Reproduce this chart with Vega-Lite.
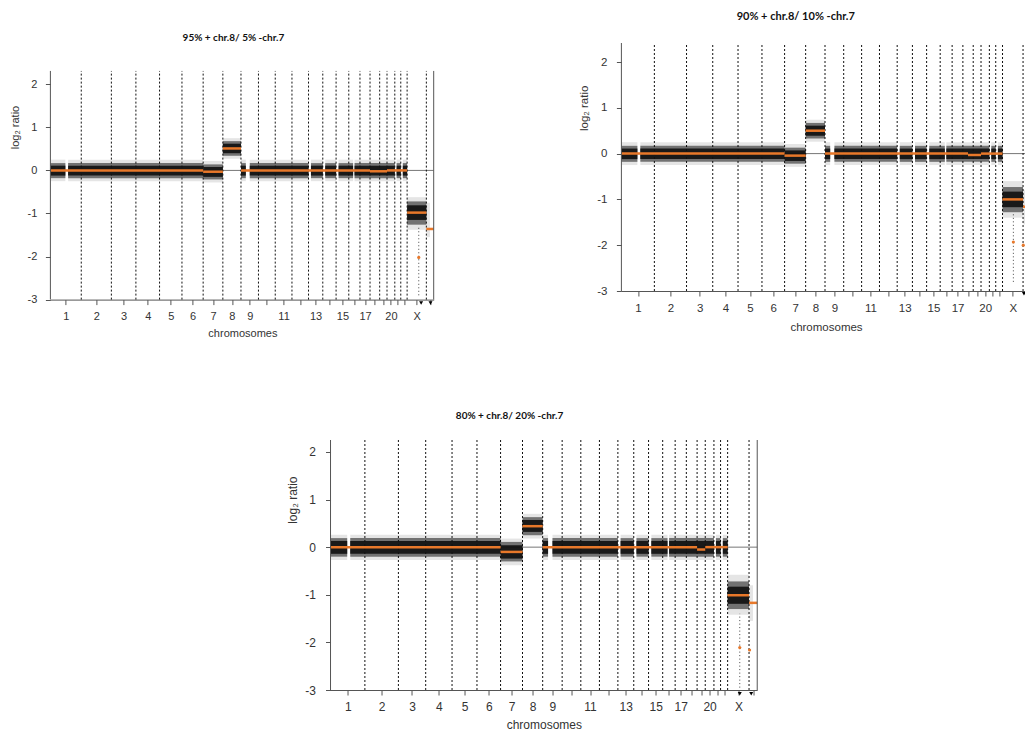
{
  "$schema": "https://vega.github.io/schema/vega-lite/v6.json",
  "background": "white",
  "padding": {"left": 9, "top": 11, "right": 0, "bottom": 0},
  "config": {
    "view": {"stroke": null},
    "axis": {"grid": false, "labelFont": "Liberation Sans", "titleFont": "Liberation Sans", "labelColor": "#333", "titleColor": "#333", "domainColor": "#555", "tickColor": "#555", "titleFontWeight": "normal", "tickSize": 5, "labelFlush": false, "labelOverlap": false, "labelBound": false, "tickCount": 100},
    "title": {"font": "Lato", "fontWeight": "bold", "color": "#111", "frame": "group", "anchor": "middle"}
  },
  "datasets": {
    "bnd": [{"x": 249.25}, {"x": 492.45}, {"x": 690.47}, {"x": 881.62}, {"x": 1062.54}, {"x": 1233.66}, {"x": 1392.8}, {"x": 1539.16}, {"x": 1680.37}, {"x": 1815.9}, {"x": 1950.91}, {"x": 2084.76}, {"x": 2199.93}, {"x": 2307.28}, {"x": 2409.81}, {"x": 2500.16}, {"x": 2581.36}, {"x": 2659.44}, {"x": 2718.57}, {"x": 2781.6}, {"x": 2829.73}, {"x": 2881.03}, {"x": 3036.3}],
    "brd": [{"x": 0}, {"x": 3095.67}],
    "bands": [
      {"p": 1, "s": 0, "e": 121, "ol": -0.25, "oh": 0.25, "ml": -0.18, "mh": 0.17, "cl": -0.12, "ch": 0.11},
      {"p": 1, "s": 143, "e": 1233.66, "ol": -0.25, "oh": 0.25, "ml": -0.18, "mh": 0.17, "cl": -0.12, "ch": 0.11},
      {"p": 1, "s": 1233.66, "e": 1392.8, "ol": -0.28, "oh": 0.22, "ml": -0.21, "mh": 0.14, "cl": -0.15, "ch": 0.08},
      {"p": 1, "s": 1392.8, "e": 1539.16, "ol": 0.27, "oh": 0.75, "ml": 0.34, "mh": 0.68, "cl": 0.4, "ch": 0.62},
      {"p": 1, "s": 1539.16, "e": 1578.2, "ol": -0.25, "oh": 0.25, "ml": -0.18, "mh": 0.17, "cl": -0.12, "ch": 0.11},
      {"p": 1, "s": 1610.2, "e": 2084.76, "ol": -0.25, "oh": 0.25, "ml": -0.18, "mh": 0.17, "cl": -0.12, "ch": 0.11},
      {"p": 1, "s": 2104.3, "e": 2199.93, "ol": -0.25, "oh": 0.25, "ml": -0.18, "mh": 0.17, "cl": -0.12, "ch": 0.11},
      {"p": 1, "s": 2219.4, "e": 2307.28, "ol": -0.25, "oh": 0.25, "ml": -0.18, "mh": 0.17, "cl": -0.12, "ch": 0.11},
      {"p": 1, "s": 2327.3, "e": 2444.8, "ol": -0.25, "oh": 0.25, "ml": -0.18, "mh": 0.17, "cl": -0.12, "ch": 0.11},
      {"p": 1, "s": 2456.3, "e": 2781.6, "ol": -0.25, "oh": 0.25, "ml": -0.18, "mh": 0.17, "cl": -0.12, "ch": 0.11},
      {"p": 1, "s": 2796.1, "e": 2829.73, "ol": -0.25, "oh": 0.25, "ml": -0.18, "mh": 0.17, "cl": -0.12, "ch": 0.11},
      {"p": 1, "s": 2846.2, "e": 2881.03, "ol": -0.25, "oh": 0.25, "ml": -0.18, "mh": 0.17, "cl": -0.12, "ch": 0.11},
      {"p": 1, "s": 2881.03, "e": 3036.3, "ol": -1.38, "oh": -0.62, "ml": -1.26, "mh": -0.72, "cl": -1.15, "ch": -0.81},
      {"p": 1, "s": 3039, "e": 3065, "ol": -1.55, "oh": -0.75},
      {"p": 2, "s": 0, "e": 121, "ol": -0.25, "oh": 0.25, "ml": -0.18, "mh": 0.17, "cl": -0.12, "ch": 0.11},
      {"p": 2, "s": 143, "e": 1233.66, "ol": -0.25, "oh": 0.25, "ml": -0.18, "mh": 0.17, "cl": -0.12, "ch": 0.11},
      {"p": 2, "s": 1233.66, "e": 1392.8, "ol": -0.29, "oh": 0.21, "ml": -0.22, "mh": 0.13, "cl": -0.16, "ch": 0.07},
      {"p": 2, "s": 1392.8, "e": 1539.16, "ol": 0.26, "oh": 0.74, "ml": 0.33, "mh": 0.67, "cl": 0.39, "ch": 0.61},
      {"p": 2, "s": 1539.16, "e": 1578.2, "ol": -0.25, "oh": 0.25, "ml": -0.18, "mh": 0.17, "cl": -0.12, "ch": 0.11},
      {"p": 2, "s": 1610.2, "e": 2084.76, "ol": -0.25, "oh": 0.25, "ml": -0.18, "mh": 0.17, "cl": -0.12, "ch": 0.11},
      {"p": 2, "s": 2104.3, "e": 2199.93, "ol": -0.25, "oh": 0.25, "ml": -0.18, "mh": 0.17, "cl": -0.12, "ch": 0.11},
      {"p": 2, "s": 2219.4, "e": 2307.28, "ol": -0.25, "oh": 0.25, "ml": -0.18, "mh": 0.17, "cl": -0.12, "ch": 0.11},
      {"p": 2, "s": 2327.3, "e": 2444.8, "ol": -0.25, "oh": 0.25, "ml": -0.18, "mh": 0.17, "cl": -0.12, "ch": 0.11},
      {"p": 2, "s": 2456.3, "e": 2781.6, "ol": -0.25, "oh": 0.25, "ml": -0.18, "mh": 0.17, "cl": -0.12, "ch": 0.11},
      {"p": 2, "s": 2796.1, "e": 2829.73, "ol": -0.25, "oh": 0.25, "ml": -0.18, "mh": 0.17, "cl": -0.12, "ch": 0.11},
      {"p": 2, "s": 2846.2, "e": 2881.03, "ol": -0.25, "oh": 0.25, "ml": -0.18, "mh": 0.17, "cl": -0.12, "ch": 0.11},
      {"p": 2, "s": 2881.03, "e": 3036.3, "ol": -1.4, "oh": -0.6, "ml": -1.28, "mh": -0.73, "cl": -1.17, "ch": -0.83},
      {"p": 2, "s": 3039, "e": 3065, "ol": -1.55, "oh": -0.8},
      {"p": 3, "s": 0, "e": 121, "ol": -0.27, "oh": 0.26, "ml": -0.2, "mh": 0.19, "cl": -0.14, "ch": 0.13},
      {"p": 3, "s": 143, "e": 1233.66, "ol": -0.27, "oh": 0.26, "ml": -0.2, "mh": 0.19, "cl": -0.14, "ch": 0.13},
      {"p": 3, "s": 1233.66, "e": 1392.8, "ol": -0.38, "oh": 0.18, "ml": -0.3, "mh": 0.11, "cl": -0.24, "ch": 0.04},
      {"p": 3, "s": 1392.8, "e": 1539.16, "ol": 0.18, "oh": 0.7, "ml": 0.25, "mh": 0.63, "cl": 0.32, "ch": 0.57},
      {"p": 3, "s": 1539.16, "e": 1578.2, "ol": -0.27, "oh": 0.26, "ml": -0.2, "mh": 0.19, "cl": -0.14, "ch": 0.13},
      {"p": 3, "s": 1610.2, "e": 2084.76, "ol": -0.27, "oh": 0.26, "ml": -0.2, "mh": 0.19, "cl": -0.14, "ch": 0.13},
      {"p": 3, "s": 2104.3, "e": 2199.93, "ol": -0.27, "oh": 0.26, "ml": -0.2, "mh": 0.19, "cl": -0.14, "ch": 0.13},
      {"p": 3, "s": 2219.4, "e": 2307.28, "ol": -0.27, "oh": 0.26, "ml": -0.2, "mh": 0.19, "cl": -0.14, "ch": 0.13},
      {"p": 3, "s": 2327.3, "e": 2444.8, "ol": -0.27, "oh": 0.26, "ml": -0.2, "mh": 0.19, "cl": -0.14, "ch": 0.13},
      {"p": 3, "s": 2456.3, "e": 2781.6, "ol": -0.27, "oh": 0.26, "ml": -0.2, "mh": 0.19, "cl": -0.14, "ch": 0.13},
      {"p": 3, "s": 2796.1, "e": 2829.73, "ol": -0.27, "oh": 0.26, "ml": -0.2, "mh": 0.19, "cl": -0.14, "ch": 0.13},
      {"p": 3, "s": 2846.2, "e": 2881.03, "ol": -0.27, "oh": 0.26, "ml": -0.2, "mh": 0.19, "cl": -0.14, "ch": 0.13},
      {"p": 3, "s": 2881.03, "e": 3036.3, "ol": -1.42, "oh": -0.58, "ml": -1.3, "mh": -0.72, "cl": -1.19, "ch": -0.83},
      {"p": 3, "s": 3039, "e": 3065, "ol": -1.55, "oh": -0.8}
    ],
    "segs": [
      {"p": 1, "s": 0, "e": 1233.66, "v": 0},
      {"p": 1, "s": 1233.66, "e": 1392.8, "v": -0.03},
      {"p": 1, "s": 1392.8, "e": 1539.16, "v": 0.51},
      {"p": 1, "s": 1539.16, "e": 2581.36, "v": 0},
      {"p": 1, "s": 2581.36, "e": 2718.57, "v": -0.02},
      {"p": 1, "s": 2718.57, "e": 2881.03, "v": 0},
      {"p": 1, "s": 2881.03, "e": 3036.3, "v": -0.98},
      {"p": 1, "s": 3036.3, "e": 3095.67, "v": -1.36},
      {"p": 2, "s": 0, "e": 1233.66, "v": 0},
      {"p": 2, "s": 1233.66, "e": 1392.8, "v": -0.044},
      {"p": 2, "s": 1392.8, "e": 1539.16, "v": 0.5},
      {"p": 2, "s": 1539.16, "e": 2620, "v": 0},
      {"p": 2, "s": 2620, "e": 2718.57, "v": -0.03},
      {"p": 2, "s": 2718.57, "e": 2881.03, "v": 0},
      {"p": 2, "s": 2881.03, "e": 3036.3, "v": -1.0},
      {"p": 2, "s": 3036.3, "e": 3095.67, "v": -1.16},
      {"p": 3, "s": 0, "e": 1233.66, "v": 0},
      {"p": 3, "s": 1233.66, "e": 1392.8, "v": -0.1},
      {"p": 3, "s": 1392.8, "e": 1539.16, "v": 0.44},
      {"p": 3, "s": 1539.16, "e": 2659.44, "v": 0},
      {"p": 3, "s": 2659.44, "e": 2718.57, "v": -0.05},
      {"p": 3, "s": 2718.57, "e": 2881.03, "v": 0},
      {"p": 3, "s": 2881.03, "e": 3036.3, "v": -1.01},
      {"p": 3, "s": 3036.3, "e": 3095.67, "v": -1.17}
    ],
    "dots": [
      {"p": 1, "x": 2975, "v": -2.02},
      {"p": 2, "x": 2963, "v": -1.93},
      {"p": 2, "x": 3038, "v": -2.0},
      {"p": 3, "x": 2969, "v": -2.11},
      {"p": 3, "x": 3040, "v": -2.16}
    ],
    "streaks": [
      {"p": 1, "x": 2975, "lo": -2.9, "hi": -1.3},
      {"p": 2, "x": 2963, "lo": -2.8, "hi": -1.3},
      {"p": 3, "x": 2969, "lo": -2.95, "hi": -1.4}
    ],
    "tri": [
      {"p": 1, "x": 2994, "v": -3.08},
      {"p": 1, "x": 3070, "v": -3.08},
      {"p": 2, "x": 3043, "v": -3.06},
      {"p": 3, "x": 2969, "v": -3.08},
      {"p": 3, "x": 3052, "v": -3.08}
    ]
  },
  "vconcat": [
    {
      "hconcat": [
        {
          "width": 383.3,
          "height": 256.6,
          "title": {"text": "95% + chr.8/ 5% -chr.7", "fontSize": 10, "offset": 0, "dx": -8.6},
          "data": {"values": [{}]},
          "layer": [
            {"mark": {"type": "rule", "color": "#777", "strokeWidth": 1},
             "encoding": {"y": {"datum": 0, "type": "quantitative", "scale": {"domain": [-3, 2.959], "nice": false, "zero": false},
               "axis": {"title": "log₂ ratio", "values": [-3, -2, -1, 0, 1, 2], "labelExpr": "datum.value + ''", "domain": false, "labelPadding": 8.5, "labelFontSize": 11, "titleFontSize": 11, "titleX": -35, "titleY": 84, "titleAlign": "center", "titleBaseline": "middle", "titleAngle": -90, "labelOverlap": false, "tickCount": 100}}}},
            {"data": {"name": "bnd"}, "mark": {"type": "rule", "color": "#111", "strokeWidth": 1, "strokeDash": [2, 2]},
             "encoding": {"x": {"field": "x", "type": "quantitative", "scale": {"domain": [0, 3095.67], "nice": false, "zero": false},
               "axis": {"title": "chromosomes", "values": [125, 371, 591, 786, 972, 1148, 1313, 1466, 1610, 1748, 1883, 2018, 2142, 2254, 2359, 2455, 2541, 2620, 2689, 2750, 2806, 2855, 2959, 3066], "labelExpr": "['1','2','3','4','5','6','7','8','9','','11','','13','','15','','17','','','20','','','X',''][indexof([125,371,591,786,972,1148,1313,1466,1610,1748,1883,2018,2142,2254,2359,2455,2541,2620,2689,2750,2806,2855,2959,3066], datum.value)]", "labelOverlap": false, "tickCount": 100, "labelPadding": 6, "labelFontSize": 11, "labelAngle": 0, "titleFontSize": 11, "titleX": 192, "titleY": 36.7, "titleAlign": "center", "titleBaseline": "alphabetic"}},
               "y": {"datum": -3}, "y2": {"datum": 2.31}}},
            {"data": {"name": "streaks"}, "transform": [{"filter": "datum.p == 1"}], "mark": {"type": "rule", "color": "#444", "strokeWidth": 1, "strokeDash": [1, 2.5]},
             "encoding": {"x": {"field": "x", "type": "quantitative"}, "y": {"field": "lo", "type": "quantitative"}, "y2": {"field": "hi"}}},
            {"data": {"name": "bands"}, "transform": [{"filter": "datum.p == 1"}], "mark": {"type": "rect", "color": "#000", "opacity": 0.1},
             "encoding": {"x": {"field": "s", "type": "quantitative"}, "x2": {"field": "e"}, "y": {"field": "ol", "type": "quantitative"}, "y2": {"field": "oh"}}},
            {"data": {"name": "bands"}, "transform": [{"filter": "datum.p == 1"}], "mark": {"type": "rect", "color": "#000", "opacity": 0.5},
             "encoding": {"x": {"field": "s", "type": "quantitative"}, "x2": {"field": "e"}, "y": {"field": "ml", "type": "quantitative"}, "y2": {"field": "mh"}}},
            {"data": {"name": "bands"}, "transform": [{"filter": "datum.p == 1"}], "mark": {"type": "rect", "color": "#111", "opacity": 0.92},
             "encoding": {"x": {"field": "s", "type": "quantitative"}, "x2": {"field": "e"}, "y": {"field": "cl", "type": "quantitative"}, "y2": {"field": "ch"}}},
            {"data": {"name": "segs"}, "transform": [{"filter": "datum.p == 1"}], "mark": {"type": "rule", "color": "#E8782A", "strokeWidth": 2.5},
             "encoding": {"x": {"field": "s", "type": "quantitative"}, "x2": {"field": "e"}, "y": {"field": "v", "type": "quantitative"}}},
            {"data": {"name": "dots"}, "transform": [{"filter": "datum.p == 1"}], "mark": {"type": "point", "filled": true, "color": "#E8782A", "size": 10, "opacity": 1},
             "encoding": {"x": {"field": "x", "type": "quantitative"}, "y": {"field": "v", "type": "quantitative"}}},
            {"data": {"name": "brd"}, "mark": {"type": "rule", "color": "#555", "strokeWidth": 1},
             "encoding": {"x": {"field": "x", "type": "quantitative"}, "y": {"datum": -3}, "y2": {"datum": 2.31}}},
            {"data": {"name": "tri"}, "transform": [{"filter": "datum.p == 1"}], "mark": {"type": "point", "shape": "triangle-down", "filled": true, "color": "#000", "size": 16, "opacity": 1},
             "encoding": {"x": {"field": "x", "type": "quantitative"}, "y": {"field": "v", "type": "quantitative"}}}
          ]
        },
        {
          "width": 416.7,
          "height": 248,
          "title": {"text": "90% + chr.8/ 10% -chr.7", "fontSize": 11, "offset": 20.4, "dx": -34},
          "data": {"values": [{}]},
          "layer": [
            {"mark": {"type": "rule", "color": "#777", "strokeWidth": 1},
             "encoding": {"y": {"datum": 0, "type": "quantitative", "scale": {"domain": [-3, 2.415], "nice": false, "zero": false},
               "axis": {"title": "log₂ ratio", "values": [-3, -2, -1, 0, 1, 2], "labelExpr": "datum.value + ''", "domain": false, "labelPadding": 9.5, "labelFontSize": 11.5, "titleFontSize": 11.5, "titleX": -37.4, "titleY": 64.8, "titleAlign": "center", "titleBaseline": "middle", "titleAngle": -90, "labelOverlap": false, "tickCount": 100}}}},
            {"data": {"name": "bnd"}, "mark": {"type": "rule", "color": "#111", "strokeWidth": 1, "strokeDash": [2, 2]},
             "encoding": {"x": {"field": "x", "type": "quantitative", "scale": {"domain": [0, 3150], "nice": false, "zero": false},
               "axis": {"title": "chromosomes", "values": [125, 371, 591, 786, 972, 1148, 1313, 1466, 1610, 1748, 1883, 2018, 2142, 2254, 2359, 2455, 2541, 2620, 2689, 2750, 2806, 2855, 2959, 3066], "labelExpr": "['1','2','3','4','5','6','7','8','9','','11','','13','','15','','17','','','20','','','X',''][indexof([125,371,591,786,972,1148,1313,1466,1610,1748,1883,2018,2142,2254,2359,2455,2541,2620,2689,2750,2806,2855,2959,3066], datum.value)]", "labelOverlap": false, "tickCount": 100, "labelPadding": 6, "labelFontSize": 11.5, "labelAngle": 0, "titleFontSize": 11.5, "titleX": 204.6, "titleY": 39, "titleAlign": "center", "titleBaseline": "alphabetic"}},
               "y": {"datum": -3}, "y2": {"datum": 2.415}}},
            {"data": {"name": "streaks"}, "transform": [{"filter": "datum.p == 2"}], "mark": {"type": "rule", "color": "#444", "strokeWidth": 1, "strokeDash": [1, 2.5]},
             "encoding": {"x": {"field": "x", "type": "quantitative"}, "y": {"field": "lo", "type": "quantitative"}, "y2": {"field": "hi"}}},
            {"data": {"name": "bands"}, "transform": [{"filter": "datum.p == 2"}], "mark": {"type": "rect", "color": "#000", "opacity": 0.1},
             "encoding": {"x": {"field": "s", "type": "quantitative"}, "x2": {"field": "e"}, "y": {"field": "ol", "type": "quantitative"}, "y2": {"field": "oh"}}},
            {"data": {"name": "bands"}, "transform": [{"filter": "datum.p == 2"}], "mark": {"type": "rect", "color": "#000", "opacity": 0.5},
             "encoding": {"x": {"field": "s", "type": "quantitative"}, "x2": {"field": "e"}, "y": {"field": "ml", "type": "quantitative"}, "y2": {"field": "mh"}}},
            {"data": {"name": "bands"}, "transform": [{"filter": "datum.p == 2"}], "mark": {"type": "rect", "color": "#111", "opacity": 0.92},
             "encoding": {"x": {"field": "s", "type": "quantitative"}, "x2": {"field": "e"}, "y": {"field": "cl", "type": "quantitative"}, "y2": {"field": "ch"}}},
            {"data": {"name": "segs"}, "transform": [{"filter": "datum.p == 2"}], "mark": {"type": "rule", "color": "#E8782A", "strokeWidth": 2.5},
             "encoding": {"x": {"field": "s", "type": "quantitative"}, "x2": {"field": "e"}, "y": {"field": "v", "type": "quantitative"}}},
            {"data": {"name": "dots"}, "transform": [{"filter": "datum.p == 2"}], "mark": {"type": "point", "filled": true, "color": "#E8782A", "size": 10, "opacity": 1},
             "encoding": {"x": {"field": "x", "type": "quantitative"}, "y": {"field": "v", "type": "quantitative"}}},
            {"data": {"name": "brd"}, "mark": {"type": "rule", "color": "#555", "strokeWidth": 1},
             "encoding": {"x": {"field": "x", "type": "quantitative"}, "y": {"datum": -3}, "y2": {"datum": 2.415}}},
            {"data": {"name": "tri"}, "transform": [{"filter": "datum.p == 2"}], "mark": {"type": "point", "shape": "triangle-down", "filled": true, "color": "#000", "size": 16, "opacity": 1},
             "encoding": {"x": {"field": "x", "type": "quantitative"}, "y": {"field": "v", "type": "quantitative"}}}
          ]
        }
      ],
      "spacing": 142
    },
    {
      "width": 426.7,
      "height": 250,
      "title": {"text": "80% + chr.8/ 20% -chr.7", "fontSize": 10, "offset": 18.3, "dx": -34.3},
      "data": {"values": [{}]},
      "layer": [
        {"mark": {"type": "rule", "color": "#777", "strokeWidth": 1},
         "encoding": {"y": {"datum": 0, "type": "quantitative", "scale": {"domain": [-3, 2.25], "nice": false, "zero": false},
           "axis": {"title": "log₂ ratio", "values": [-3, -2, -1, 0, 1, 2], "labelExpr": "datum.value + ''", "domain": false, "labelPadding": 10, "labelFontSize": 12, "titleFontSize": 12, "titleX": -38.3, "titleY": 59.7, "titleAlign": "center", "titleBaseline": "middle", "titleAngle": -90, "labelOverlap": false, "tickCount": 100}}}},
        {"data": {"name": "bnd"}, "mark": {"type": "rule", "color": "#111", "strokeWidth": 1, "strokeDash": [2, 2]},
         "encoding": {"x": {"field": "x", "type": "quantitative", "scale": {"domain": [0, 3095.67], "nice": false, "zero": false},
           "axis": {"title": "chromosomes", "values": [125, 371, 591, 786, 972, 1148, 1313, 1466, 1610, 1748, 1883, 2018, 2142, 2254, 2359, 2455, 2541, 2620, 2689, 2750, 2806, 2855, 2959, 3066], "labelExpr": "['1','2','3','4','5','6','7','8','9','','11','','13','','15','','17','','','20','','','X',''][indexof([125,371,591,786,972,1148,1313,1466,1610,1748,1883,2018,2142,2254,2359,2455,2541,2620,2689,2750,2806,2855,2959,3066], datum.value)]", "labelOverlap": false, "tickCount": 100, "labelPadding": 6, "labelFontSize": 12, "labelAngle": 0, "titleFontSize": 12, "titleX": 213.3, "titleY": 38.5, "titleAlign": "center", "titleBaseline": "alphabetic"}},
           "y": {"datum": -3}, "y2": {"datum": 2.25}}},
        {"data": {"name": "streaks"}, "transform": [{"filter": "datum.p == 3"}], "mark": {"type": "rule", "color": "#444", "strokeWidth": 1, "strokeDash": [1, 2.5]},
         "encoding": {"x": {"field": "x", "type": "quantitative"}, "y": {"field": "lo", "type": "quantitative"}, "y2": {"field": "hi"}}},
        {"data": {"name": "bands"}, "transform": [{"filter": "datum.p == 3"}], "mark": {"type": "rect", "color": "#000", "opacity": 0.1},
         "encoding": {"x": {"field": "s", "type": "quantitative"}, "x2": {"field": "e"}, "y": {"field": "ol", "type": "quantitative"}, "y2": {"field": "oh"}}},
        {"data": {"name": "bands"}, "transform": [{"filter": "datum.p == 3"}], "mark": {"type": "rect", "color": "#000", "opacity": 0.5},
         "encoding": {"x": {"field": "s", "type": "quantitative"}, "x2": {"field": "e"}, "y": {"field": "ml", "type": "quantitative"}, "y2": {"field": "mh"}}},
        {"data": {"name": "bands"}, "transform": [{"filter": "datum.p == 3"}], "mark": {"type": "rect", "color": "#111", "opacity": 0.92},
         "encoding": {"x": {"field": "s", "type": "quantitative"}, "x2": {"field": "e"}, "y": {"field": "cl", "type": "quantitative"}, "y2": {"field": "ch"}}},
        {"data": {"name": "segs"}, "transform": [{"filter": "datum.p == 3"}], "mark": {"type": "rule", "color": "#E8782A", "strokeWidth": 2.5},
         "encoding": {"x": {"field": "s", "type": "quantitative"}, "x2": {"field": "e"}, "y": {"field": "v", "type": "quantitative"}}},
        {"data": {"name": "dots"}, "transform": [{"filter": "datum.p == 3"}], "mark": {"type": "point", "filled": true, "color": "#E8782A", "size": 10, "opacity": 1},
         "encoding": {"x": {"field": "x", "type": "quantitative"}, "y": {"field": "v", "type": "quantitative"}}},
        {"data": {"name": "brd"}, "mark": {"type": "rule", "color": "#555", "strokeWidth": 1},
         "encoding": {"x": {"field": "x", "type": "quantitative"}, "y": {"datum": -3}, "y2": {"datum": 2.25}}},
        {"data": {"name": "tri"}, "transform": [{"filter": "datum.p == 3"}], "mark": {"type": "point", "shape": "triangle-down", "filled": true, "color": "#000", "size": 16, "opacity": 1},
         "encoding": {"x": {"field": "x", "type": "quantitative"}, "y": {"field": "v", "type": "quantitative"}}}
      ]
    }
  ],
  "spacing": 72,
  "center": true
}
